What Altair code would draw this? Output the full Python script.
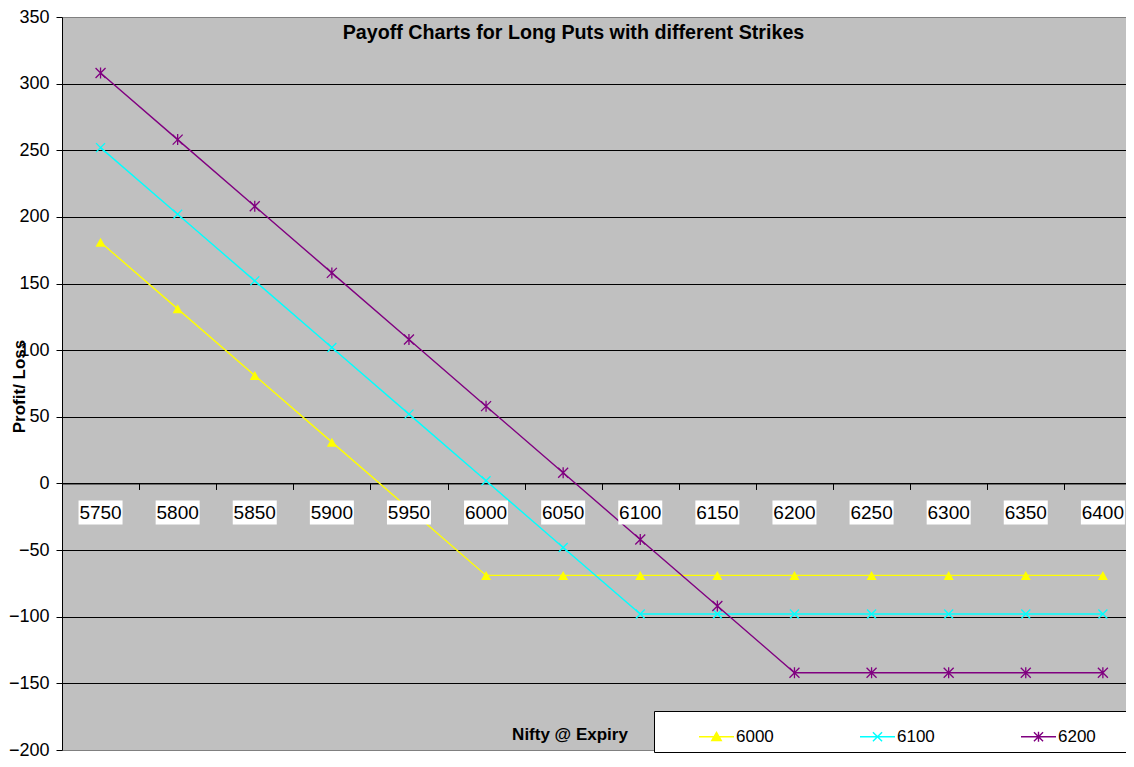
import altair as alt
import pandas as pd

FONT = "Liberation Sans"

# ---- data ----
nifty = [5750, 5800, 5850, 5900, 5950, 6000, 6050, 6100, 6150, 6200, 6250, 6300, 6350, 6400]
strikes = ["6000", "6100", "6200"]
p6000 = [181, 131, 81, 31, -19, -69, -69, -69, -69, -69, -69, -69, -69, -69]
p6100 = [252, 202, 152, 102, 52, 2, -48, -98, -98, -98, -98, -98, -98, -98]
p6200 = [308, 258, 208, 158, 108, 58, 8, -42, -92, -142, -142, -142, -142, -142]
y_ticks = [-200, -150, -100, -50, 0, 50, 100, 150, 200, 250, 300, 350]

colors = ["#FFFF00", "#00FFFF", "#800080"]

rows = []
for s, vals in zip(strikes, [p6000, p6100, p6200]):
    for n, v in zip(nifty, vals):
        rows.append({"strike": s, "nifty": n, "payoff": v})
df = pd.DataFrame(rows)
df_lab = pd.DataFrame({"nifty": nifty, "label": [str(n) for n in nifty]})

# category boundaries (tick marks of the category axis)
bounds = [(a + b) / 2 for a, b in zip(nifty[:-1], nifty[1:])]

W, H = 1064, 733
YMIN, YMAX = -200, 350
zero_from_bottom = H * (0 - YMIN) / (YMAX - YMIN)
LABEL_Y = -21.8

xs = alt.Scale(domain=[5725, 6415], nice=False, zero=False)
ys = alt.Scale(domain=[YMIN, YMAX], nice=False, zero=False)

xaxis = alt.Axis(
    values=bounds, labels=False, grid=False, offset=-zero_from_bottom,
    domainColor="#000000", domainWidth=1, tickColor="#000000", tickSize=6, tickWidth=1,
    title="Nifty @ Expiry", titleFont=FONT, titleFontSize=17, titleFontWeight="bold",
    titleColor="#000000", titleX=507.5, titleY=251.5, titleAlign="center", titleBaseline="middle",
)
yaxis = alt.Axis(
    values=y_ticks, grid=True,
    gridColor={"condition": {"test": "datum.value == 350 || datum.value == -200", "value": "#808080"},
               "value": "#000000"},
    gridWidth=1, domainColor="#000000", domainWidth=1, tickColor="#000000", tickSize=6,
    labelFont=FONT, labelFontSize=18, labelColor="#000000", labelPadding=7,
    title="Profit/ Loss", titleFont=FONT, titleFontSize=17, titleFontWeight="bold",
    titleColor="#000000", titleX=-43, titleY=369, titleAngle=270,
    titleAlign="center", titleBaseline="middle",
)

X = alt.X("nifty:Q", scale=xs, axis=xaxis)
Y = alt.Y("payoff:Q", scale=ys, axis=yaxis)

marker_paths = [
    "M0,-0.9L1,0.9L-1,0.9Z",
    "M-1,-1L1,1M-1,1L1,-1",
    "M-1,-1L1,1M-1,1L1,-1M0,-1.1L0,1.1",
]
marker_filled = [True, False, False]
marker_sizes = [100, 81, 100]

# legend glyphs: short line with the series marker on it (4th entry is an empty spacer)
legend_domain = strikes + [" "]
legend_colors = colors + ["transparent"]
legend_paths = [
    "M-1,0L1,0M0,-0.25L0.27,0.22L-0.27,0.22Z",
    "M-1,0L1,0M-0.26,-0.26L0.26,0.26M-0.26,0.26L0.26,-0.26",
    "M-1,0L1,0M-0.26,-0.26L0.26,0.26M-0.26,0.26L0.26,-0.26M0,-0.28L0,0.28",
    "M0,0",
]

layers = []
for s, c, shp, fl, sz in zip(strikes, colors, marker_paths, marker_filled, marker_sizes):
    base = alt.Chart(df).transform_filter(alt.datum.strike == s)
    layers.append(base.mark_line(color=c, strokeWidth=1.4).encode(x=X, y=Y))
    layers.append(
        base.mark_point(shape=shp, filled=fl, color=c, size=sz, strokeWidth=1.3, opacity=1)
        .encode(x=X, y=Y)
    )

# white boxes + category labels sitting just under the zero line
box = (
    alt.Chart(df_lab)
    .mark_point(shape="M-1,-0.545L1,-0.545L1,0.545L-1,0.545Z", filled=True, color="#FFFFFF",
                size=1936, opacity=1)
    .encode(x=X, y=alt.YDatum(LABEL_Y, type="quantitative", scale=ys, axis=yaxis))
)
labels = (
    alt.Chart(df_lab)
    .mark_text(font=FONT, fontSize=19, color="#000000", baseline="middle", align="center")
    .encode(x=X, y=alt.YDatum(LABEL_Y, type="quantitative", scale=ys, axis=yaxis), text="label:N")
)

leg = alt.Legend(
    title=" ", titleOrient="left", titlePadding=37, titleFontSize=17, titleFont=FONT,
    orient="none", legendX=592, legendY=694, direction="horizontal", columns=4,
    columnPadding=83, fillColor="#FFFFFF", strokeColor="#000000", padding=7,
    labelFont=FONT, labelFontSize=17, labelColor="#000000", labelOffset=1, labelLimit=300,
    symbolSize=1225, symbolStrokeWidth=1.4, symbolOpacity=1,
)
legend_layer = (
    alt.Chart(df)
    .mark_point(filled=False, opacity=0, strokeWidth=1.4, size=1225)
    .encode(
        x=X, y=Y,
        color=alt.Color("strike:N", scale=alt.Scale(domain=legend_domain, range=legend_colors), legend=leg),
        fill=alt.Fill("strike:N", scale=alt.Scale(domain=legend_domain, range=legend_colors), legend=leg),
        shape=alt.Shape("strike:N", scale=alt.Scale(domain=legend_domain, range=legend_paths), legend=leg),
    )
)

chart = (
    alt.layer(*layers, box, labels, legend_layer)
    .properties(
        width=W, height=H,
        background="#FFFFFF",
        autosize=alt.AutoSizeParams(type="none"),
        padding={"left": 54, "top": 9, "right": 0, "bottom": 9},
        title=alt.TitleParams(
            "Payoff Charts for Long Puts with different Strikes",
            font=FONT, fontSize=19.7, fontWeight="bold", color="#000000",
            anchor="middle", frame="group", offset=0, baseline="middle", dy=45, dx=-20.5,
        ),
    )
    .configure_view(fill="#C0C0C0", stroke="transparent")
)

chart.save("out.html", embed_options={"renderer": "svg", "actions": False})
